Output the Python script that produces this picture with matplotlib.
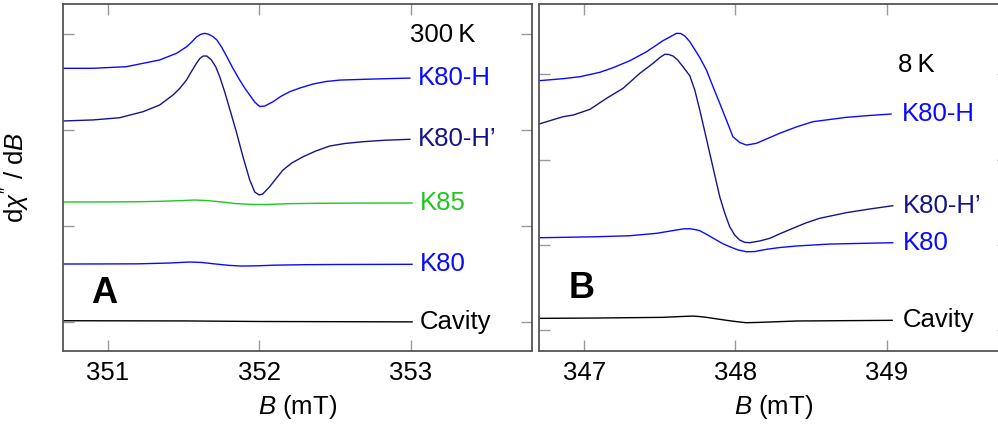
import matplotlib.pyplot as plt

plt.rcParams['font.family'] = ['Liberation Sans', 'DejaVu Sans']
plt.rcParams['mathtext.fontset'] = 'custom'
plt.rcParams['mathtext.rm'] = 'Liberation Sans'
plt.rcParams['mathtext.it'] = 'Liberation Sans:italic'

# A: 300 K
a_h_x = [350.702, 350.901, 351.122, 351.232, 351.342, 351.454, 351.521, 351.554, 351.587, 351.614, 351.640,
         351.666, 351.693, 351.720, 351.753, 351.786, 351.825, 351.871, 351.904, 351.937, 351.970, 352.003,
         352.036, 352.091, 352.142, 352.202, 352.268, 352.356, 352.440, 352.533, 352.753, 352.995]
a_h_y = [2.645, 2.645, 2.662, 2.697, 2.732, 2.802, 2.871, 2.920, 2.975, 3.000, 3.010,
         3.000, 2.977, 2.941, 2.862, 2.766, 2.648, 2.522, 2.439, 2.366, 2.293, 2.246,
         2.251, 2.296, 2.351, 2.401, 2.439, 2.481, 2.507, 2.522, 2.533, 2.543]
a_hp_x = [350.702, 350.901, 351.077, 351.232, 351.342, 351.430, 351.474, 351.519, 351.554, 351.585, 351.607,
          351.629, 351.654, 351.684, 351.713, 351.739, 351.772, 351.805, 351.849, 351.891, 351.937, 351.970,
          351.999, 352.023, 352.069, 352.109, 352.157, 352.215, 352.290, 352.374, 352.466, 352.565, 352.687,
          352.830, 352.995]
a_hp_y = [2.095, 2.106, 2.129, 2.192, 2.262, 2.366, 2.434, 2.522, 2.617, 2.697, 2.747,
          2.773, 2.773, 2.732, 2.659, 2.557, 2.398, 2.220, 1.980, 1.730, 1.480, 1.354,
          1.323, 1.333, 1.409, 1.490, 1.583, 1.657, 1.722, 1.782, 1.834, 1.860, 1.879,
          1.894, 1.904]
a_k85_x = [350.70, 351.00, 351.20, 351.35, 351.45, 351.57, 351.65, 351.75, 351.85, 351.95, 352.05,
           352.20, 352.40, 352.60, 353.01]
a_k85_y = [1.249, 1.250, 1.252, 1.257, 1.262, 1.270, 1.265, 1.250, 1.232, 1.224, 1.223,
           1.232, 1.236, 1.238, 1.239]
a_k80_x = [350.70, 351.00, 351.20, 351.40, 351.54, 351.62, 351.70, 351.80, 351.88, 351.98, 352.10,
           352.30, 352.50, 353.01]
a_k80_y = [0.602, 0.603, 0.604, 0.612, 0.623, 0.618, 0.604, 0.588, 0.581, 0.583, 0.590,
           0.595, 0.597, 0.599]
a_cav_x = [350.70, 351.50, 352.00, 352.50, 353.01]
a_cav_y = [0.010, 0.008, 0.002, 0.000, -0.002]

# B: 8 K
b_h_x = [346.701, 346.861, 346.972, 347.104, 347.191, 347.302, 347.412, 347.521, 347.566, 347.610, 347.638,
         347.665, 347.698, 347.719, 347.764, 347.808, 347.851, 347.896, 347.940, 347.983, 348.028, 348.072,
         348.138, 348.213, 348.292, 348.402, 348.512, 348.732, 348.886, 349.029]
b_h_y = [2.926, 2.950, 2.973, 3.025, 3.079, 3.161, 3.266, 3.396, 3.439, 3.482, 3.480,
         3.451, 3.384, 3.325, 3.198, 3.052, 2.858, 2.661, 2.465, 2.269, 2.201, 2.171,
         2.191, 2.248, 2.309, 2.383, 2.445, 2.496, 2.518, 2.535]
b_hp_x = [346.701, 346.861, 346.927, 347.038, 347.148, 347.257, 347.368, 347.455, 347.500, 347.533, 347.559,
          347.587, 347.618, 347.653, 347.698, 347.731, 347.764, 347.797, 347.830, 347.863, 347.896, 347.929,
          347.962, 347.995, 348.028, 348.061, 348.094, 348.160, 348.226, 348.298, 348.380, 348.464, 348.556,
          348.732, 348.886, 349.040]
b_hp_y = [2.418, 2.504, 2.523, 2.590, 2.720, 2.837, 3.013, 3.130, 3.198, 3.236, 3.234,
          3.216, 3.169, 3.090, 2.984, 2.817, 2.582, 2.330, 2.074, 1.819, 1.565, 1.373,
          1.212, 1.115, 1.056, 1.029, 1.025, 1.045, 1.076, 1.133, 1.194, 1.256, 1.311,
          1.377, 1.420, 1.459]
b_k80_x = [346.701, 347.082, 347.302, 347.478, 347.610, 347.658, 347.698, 347.731, 347.764, 347.817, 347.874,
           347.915, 347.962, 348.015, 348.072, 348.127, 348.204, 348.292, 348.402, 348.622, 349.040]
b_k80_y = [1.083, 1.095, 1.107, 1.135, 1.174, 1.188, 1.189, 1.180, 1.166, 1.115, 1.056,
           1.015, 0.978, 0.941, 0.919, 0.921, 0.947, 0.968, 0.986, 1.009, 1.025]
b_cav_x = [346.701, 347.082, 347.521, 347.632, 347.719, 347.764, 347.808, 347.883, 347.962, 348.028, 348.072,
           348.160, 348.402, 349.036]
b_cav_y = [0.137, 0.141, 0.149, 0.158, 0.164, 0.158, 0.149, 0.129, 0.109, 0.094, 0.086,
           0.090, 0.106, 0.114]

blue = '#0a0aff'
navy = '#14148a'
green = '#1ec81e'

fig = plt.figure(figsize=(9.98, 4.28), dpi=100)
ax1 = fig.add_axes([0.0634, 0.1799, 0.4693, 0.8107])
ax2 = fig.add_axes([0.5404, 0.1799, 0.4693, 0.8107])

def style(ax, xlim, ylim, xticks):
    ax.set_xlim(xlim)
    ax.set_ylim(ylim)
    ax.set_xticks(xticks)
    ax.set_xticklabels([str(t) for t in xticks])
    ax.set_yticks([0, 1, 2, 3])
    ax.set_yticklabels([])
    ax.tick_params(direction='in', length=8, width=1.0, color='#999999', top=True, right=True,
                   labelsize=18.5, pad=7)
    for s in ax.spines.values():
        s.set_color('#555555')
        s.set_linewidth(1.3)
    ax.set_xlabel('$B$ (mT)', fontsize=18.5, labelpad=6)

style(ax1, (350.705, 353.80), (-0.306, 3.316), [351, 352, 353])
style(ax2, (346.703, 349.80), (-0.246, 3.826), [347, 348, 349])

def trace(ax, x, y, col, name, dx):
    ax.plot(x, y, color=col, lw=1.0)
    ax.text(x[-1] + dx, y[-1], name, color=col, fontsize=18.5, va='center')

trace(ax1, a_h_x, a_h_y, blue, 'K80-H', 0.05)
trace(ax1, a_hp_x, a_hp_y, navy, 'K80-H’', 0.05)
trace(ax1, a_k85_x, a_k85_y, green, 'K85', 0.05)
trace(ax1, a_k80_x, a_k80_y, blue, 'K80', 0.05)
trace(ax1, a_cav_x, a_cav_y, 'black', 'Cavity', 0.05)

trace(ax2, b_h_x, b_h_y, blue, 'K80-H', 0.07)
trace(ax2, b_hp_x, b_hp_y, navy, 'K80-H’', 0.07)
trace(ax2, b_k80_x, b_k80_y, blue, 'K80', 0.07)
trace(ax2, b_cav_x, b_cav_y, 'black', 'Cavity', 0.07)

ax1.text(0.740, 0.911, '300\u2009K', transform=ax1.transAxes, fontsize=18.5, va='center')
ax2.text(0.766, 0.824, '8\u2009K', transform=ax2.transAxes, fontsize=18.5, va='center')
ax1.text(0.060, 0.167, 'A', transform=ax1.transAxes, fontsize=26, fontweight='bold', va='center')
ax2.text(0.0625, 0.179, 'B', transform=ax2.transAxes, fontsize=26, fontweight='bold', va='center')

ax1.set_ylabel("d$\\chi''$ / d$B$", fontsize=18.5)
ax1.yaxis.set_label_coords(-0.067, 0.5)

fig.savefig('out.png', dpi=100)
